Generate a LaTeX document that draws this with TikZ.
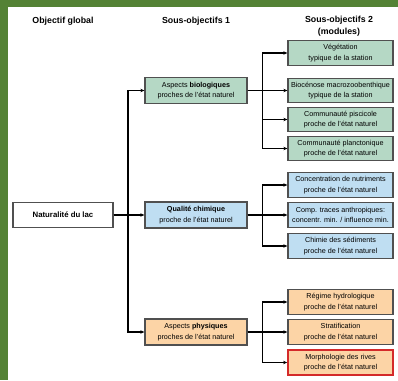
\documentclass[tikz,border=0pt]{standalone}
\usepackage{fontspec}
\setmainfont{Liberation Sans}
\usetikzlibrary{arrows.meta}
\definecolor{frame}{HTML}{548235}
\definecolor{gfill}{HTML}{B5D8C5}
\definecolor{bfill}{HTML}{BFDEF2}
\definecolor{ofill}{HTML}{FCD4A6}
\definecolor{bord}{HTML}{505050}
\definecolor{redb}{HTML}{D42A2A}
\tikzset{
  box/.style={draw=bord, line width=1.3pt, inner sep=0pt, align=center,
    font=\fontsize{7.2}{10.5}\selectfont},
  rbox/.style={box, minimum width=105pt, minimum height=24.5pt},
  mbox/.style={box, minimum width=102pt, minimum height=26pt},
  gbox/.style={fill=gfill}, bbox/.style={fill=bfill}, obox/.style={fill=ofill},
  hdr/.style={font=\bfseries\fontsize{8.8}{12}\selectfont, align=center},
  arr/.style={draw=black, line width=1.1pt, -{Stealth[length=4pt,width=3.5pt]}}
}
\begin{document}
\begin{tikzpicture}[x=1pt,y=-1pt]
\useasboundingbox (0,0) rectangle (398,380);
\fill[white] (0,0) rectangle (398,380);
\fill[frame] (0,0) rectangle (398,7);
\fill[frame] (0,0) rectangle (8,380);

\node[hdr] (h0) at (63,21) {Objectif global};
\node[hdr] (h1) at (196,21) {Sous-objectifs 1};
\node[hdr] (h2) at (339,26) {Sous-objectifs 2\\(modules)};

\node[box, minimum width=100pt, minimum height=25pt, font=\bfseries\fontsize{7.8}{10}\selectfont] (nat) at (63,215) {Naturalité du lac};

\node[mbox, gbox] (bio) at (196,90.5) {Aspects \textbf{biologiques}\\proches de l'état naturel};
\node[mbox, bbox] (chem) at (196,215) {\textbf{Qualité chimique}\\proche de l'état naturel};
\node[mbox, obox] (phys) at (196,332) {Aspects \textbf{physiques}\\proches de l'état naturel};

\node[rbox, gbox] (g1) at (340.5,53) {Végétation\\typique de la station};
\node[rbox, gbox] (g2) at (340.5,90.5) {Biocénose macrozoobenthique\\typique de la station};
\node[rbox, gbox] (g3) at (340.5,119.5) {Communauté piscicole\\proche de l'état naturel};
\node[rbox, gbox] (g4) at (340.5,148.5) {Communauté planctonique\\proche de l'état naturel};

\node[rbox, bbox] (b1) at (340.5,185) {Concentration de nutriments\\proche de l'état naturel};
\node[rbox, bbox] (b2) at (340.5,215) {Comp. traces anthropiques:\\concentr. min. / influence min.};
\node[rbox, bbox] (b3) at (340.5,246) {Chimie des sédiments\\proche de l'état naturel};

\node[rbox, obox] (o1) at (340.5,302) {Régime hydrologique\\proche de l'état naturel};
\node[rbox, obox] (o2) at (340.5,332) {Stratification\\proche de l'état naturel};
\node[rbox, obox, draw=redb, line width=1.8pt] (o3) at (340.5,362.5) {Morphologie des rives\\proche de l'état naturel};

\coordinate (t0) at (128,215);
\draw[arr] (nat.east) -- (chem.west);
\draw[arr] (nat.east) -- (t0) |- (bio.west);
\draw[arr] (nat.east) -- (t0) |- (phys.west);

\foreach \s/\t in {bio/g1,bio/g2,bio/g3,bio/g4,chem/b1,chem/b2,chem/b3,phys/o1,phys/o2,phys/o3}
  \draw[arr] (\s.east) -- ++(15,0) |- (\t.west);
\end{tikzpicture}
\end{document}
